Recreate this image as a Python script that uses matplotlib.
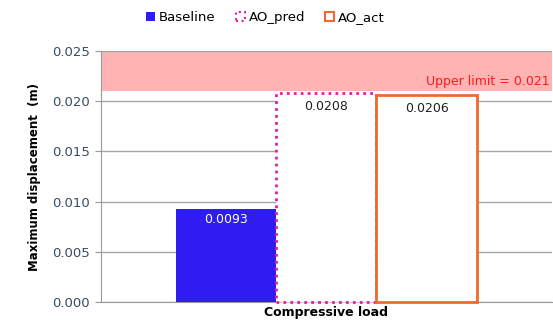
import numpy as np
import matplotlib.pyplot as plt
from matplotlib.patches import Patch

# --- data ---
category = ['Compressive load']
series = ['Baseline', 'AO_pred', 'AO_act']
values = [0.0093, 0.0208, 0.0206]
labels = ['0.0093', '0.0208', '0.0206']
upper_limit = 0.021
y_max = 0.025
yticks = [0.000, 0.005, 0.010, 0.015, 0.020, 0.025]

plt.rcParams['font.family'] = ['DejaVu Sans']

fig = plt.figure(figsize=(5.53, 3.25), dpi=100)
ax = fig.add_axes([0.1826, 0.0708, 0.8154, 0.7722])

# upper limit band
ax.axhspan(upper_limit, y_max, color='#FFB3B3', zorder=0, lw=0)
ax.text(0.495, upper_limit + 0.0003, 'Upper limit = 0.021', color='#FF1A1A',
        ha='right', va='bottom', fontsize=9)

w = 0.222
xs = np.array([-w, 0, w])
styles = [
    dict(facecolor='#2E1CF0', edgecolor='#2E1CF0', linewidth=0),
    dict(facecolor='white', edgecolor='#E020A0', linewidth=2, linestyle=(0, (1, 1.5))),
    dict(facecolor='white', edgecolor='#EE6A2E', linewidth=2),
]
for x, v, st in zip(xs, values, styles):
    ax.bar(x, v, width=w, zorder=3, clip_on=False, **st)

txt_colors = ['white', '#202020', '#202020']
offsets = [0.0011, 0.0013, 0.0013]
for x, v, lab, c, o in zip(xs, values, labels, txt_colors, offsets):
    ax.text(x, v - o, lab, ha='center', va='center', color=c, fontsize=9, zorder=4)

ax.set_xlim(-0.5, 0.5)
ax.set_ylim(0, y_max)
ax.set_yticks(yticks)
ax.set_yticklabels([f'{t:.3f}' for t in yticks], color='#3A4A60', fontsize=9.5)
ax.set_xticks([0])
ax.set_xticklabels(category, fontsize=9, fontweight='bold')
ax.tick_params(axis='x', length=0, pad=3)
ax.tick_params(axis='y', length=4, color='#999999', pad=4)
ax.grid(axis='y', color='#A6A6A6', linewidth=1, zorder=1)
ax.set_axisbelow(True)
for s in ['top', 'right']:
    ax.spines[s].set_visible(False)
for s in ['left', 'bottom']:
    ax.spines[s].set_color('#999999')
    ax.spines[s].set_zorder(2)
ax.set_ylabel('Maximum displacement  (m)', fontsize=8.5, fontweight='bold', labelpad=8)

handles = [Patch(**styles[0]),
           Patch(facecolor='white', edgecolor='#E020A0', linewidth=1.5, linestyle=':'),
           Patch(facecolor='white', edgecolor='#EE6A2E', linewidth=1.5)]
fig.legend(handles, series, loc='center', bbox_to_anchor=(0.48, 0.945), ncol=3,
           frameon=False, fontsize=9.5, handlelength=0.7, handleheight=0.7,
           handletextpad=0.3, columnspacing=1.5)

fig.savefig('out.png', dpi=100)
